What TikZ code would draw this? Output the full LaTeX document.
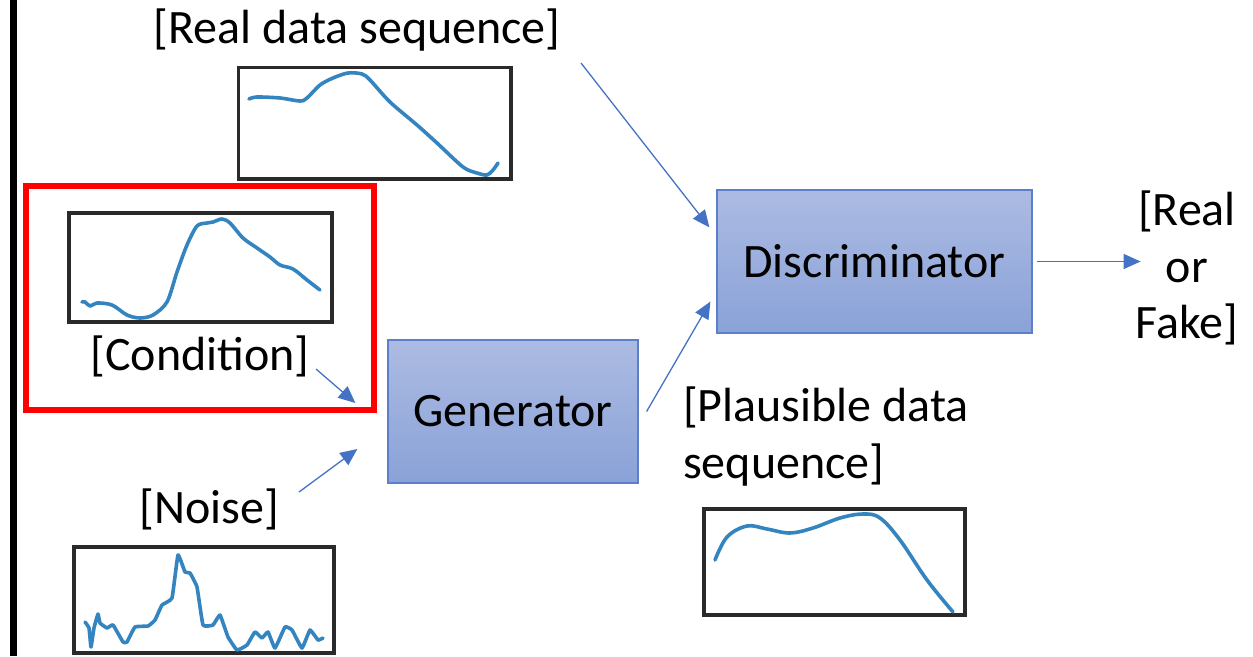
\documentclass[tikz,border=0pt]{standalone}
\usepackage{fontspec}
\setmainfont{Carlito}
\usetikzlibrary{arrows.meta,calc}
\definecolor{arrblue}{HTML}{4472C4}
\definecolor{curveblue}{RGB}{52,132,192}
\definecolor{boxtop}{HTML}{ACBBE2}
\definecolor{boxbot}{HTML}{8AA2D8}
\definecolor{boxedge}{HTML}{5B7FCB}
\definecolor{framegray}{HTML}{2A2A2A}
\tikzset{
  lbl/.style={font=\fontsize{48}{56.5}\selectfont, inner sep=0pt},
  procbox/.style={draw=boxedge, line width=1.2pt, top color=boxtop, bottom color=boxbot,
     font=\fontsize{48}{56.5}\selectfont, inner sep=0pt},
  arr/.style={draw=arrblue, line width=1.3pt, -{Triangle[length=17pt,width=15pt]}},
  plotframe/.style={draw=framegray, line width=3.2pt},
  curve/.style={draw=curveblue, line width=3.6pt, line join=round, line cap=round}
}
\begin{document}
\begin{tikzpicture}[x=1pt,y=-1pt]
\useasboundingbox (0,0) rectangle (1253,656);
% left black bar
\draw[line width=6.5pt] (13.5,0) -- (13.5,656);
% red frame
\draw[red, line width=6pt] (26,186) rectangle (374,410);

% plot frames
\draw[plotframe] (238.5,67.5) rectangle (511,179);
\draw[plotframe] (69,213) rectangle (332,322);
\draw[plotframe] (74,547) rectangle (334,653);
\draw[plotframe] (704,509) rectangle (965,615);

% real data curve
\draw[curve] plot[smooth, tension=0.5] coordinates {(249,99) (257,97) (280,98) (300,101) (307,98) (320,85) (333,78) (348,73) (362,74) (370,80) (390,102) (417,125) (437,143) (463,167) (477,173) (487,175) (493,170) (498,163)};
% condition curve
\draw[curve] plot[smooth, tension=0.5] coordinates {(82,302) (85,302) (90,306) (97,303) (112,305) (127,315) (140,318) (153,315) (167,302) (177,272) (187,245) (197,226) (207,223) (213,222) (222,219) (230,223) (243,238) (257,248) (270,257) (280,265) (293,269) (307,280) (320,290)};
% noise curve
\draw[curve] plot[smooth, tension=0.2] coordinates {(85,622) (89,628) (91,647) (94,628) (98,614) (100,623) (107,628) (113,625) (123,642) (127,642) (135,627) (148,626) (155,620) (162,605) (172,598) (178,555) (185,572) (190,573) (197,587) (203,625) (213,625) (220,615) (228,637) (237,650) (247,645) (255,632) (262,638) (268,632) (275,648) (285,627) (292,630) (302,648) (310,630) (318,640) (323,638)};
% plausible curve
\draw[curve] plot[smooth, tension=0.6] coordinates {(715,560) (727,537) (747,526) (767,529) (790,533) (813,528) (840,518) (863,514) (880,518) (900,540) (927,580) (953,612)};

% process boxes
\node[procbox, minimum width=250pt, minimum height=143pt] (gen) at (513,411.5) {Generator};
\node[procbox, minimum width=315pt, minimum height=143pt] (disc) at (874.5,261.5) {Discriminator};

% labels
\node[lbl, anchor=base] (real) at (357,43) {[Real data sequence]};
\node[lbl, anchor=base] (cond) at (200,370) {[Condition]};
\node[lbl, anchor=base] (noise) at (209,523) {[Noise]};
\node[lbl, anchor=base west, align=left] (plaus) at (683,478) {[Plausible data\\sequence]};
\node[lbl, align=center] (rf) at (1187,268) {[Real\\or\\Fake]};

% connectors
\coordinate (rdA) at (581,63);
\coordinate (condA) at (316,369);
\coordinate (noiseA) at (299,492);
\coordinate (genOut) at ($(gen.east)+(8,0)$);
\coordinate (discOut) at ($(disc.east)+(4,0)$);
\coordinate (rfIn) at ($(disc.east)+(108,0)$);
\draw[arr] (rdA) -- ($(disc.north west)+(-7,38)$);
\draw[arr] (condA) -- ($(gen.west)+(-32,-8.5)$);
\draw[arr] (noiseA) -- ($(gen.west)+(-30,37.5)$);
\draw[arr] (genOut) -- ($(disc.south west)+(-6,-32)$);
\draw[arr] (discOut) -- (rfIn);
\end{tikzpicture}
\end{document}
